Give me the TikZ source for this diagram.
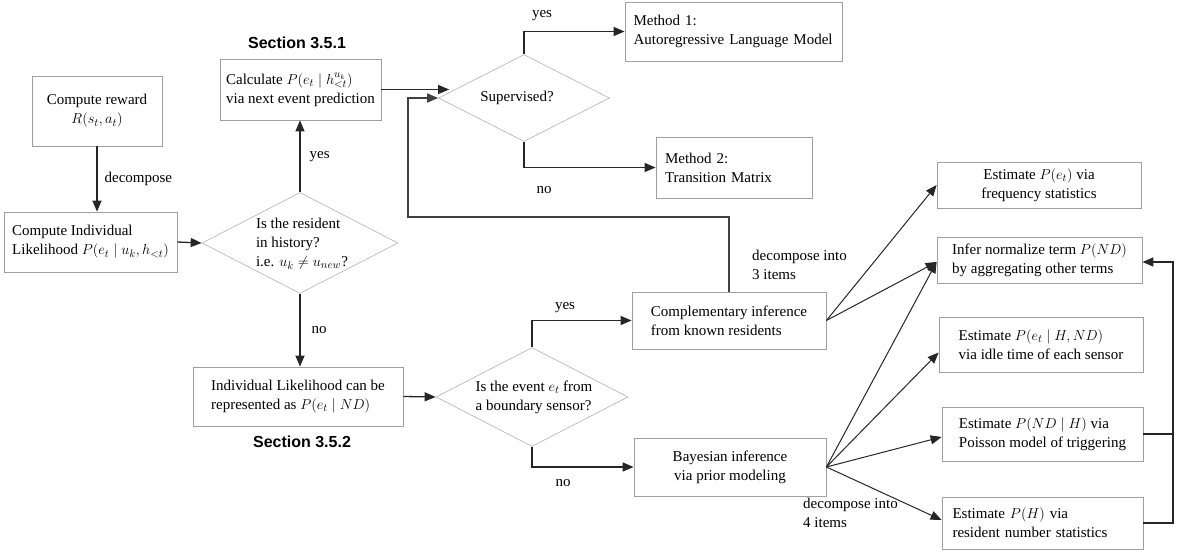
\documentclass[tikz,border=0pt]{standalone}
\usepackage{fontspec}
\setmainfont{Liberation Serif}
\newfontfamily\secfont{Liberation Sans}
\usetikzlibrary{arrows.meta,shapes.geometric,calc}

\tikzset{
  every node/.style={font=\fontsize{15}{19}\selectfont},
  box/.style={draw=gray!75, line width=0.8pt, rectangle, inner sep=4pt},
  dia/.style={draw=gray!55, line width=0.7pt, diamond, inner sep=0pt},
  lbl/.style={inner sep=1pt},
  sec/.style={font=\secfont\bfseries\fontsize{16}{19}\selectfont, inner sep=1pt},
  arr/.style={draw=black!85, line width=1.3pt, -{Triangle[length=11pt,width=9pt]}},
  ln/.style={draw=black!85, line width=1.3pt},
  loopln/.style={draw=black!75, line width=1.6pt, -{Triangle[length=11pt,width=9pt]}}
}

\begin{document}
\begin{tikzpicture}[x=1pt,y=-1pt]
\useasboundingbox (0,0) rectangle (1179,554);

% left column
\node[box, minimum width=130pt, minimum height=70pt, align=center] (reward) at (97,111)
  {Compute reward\\$R(s_t,a_t)$};
\node[box, minimum width=173pt, minimum height=60pt, align=left] (indiv) at (90.5,242)
  {Compute Individual\\Likelihood $P(e_t \mid u_k, h_{<t})$};

% residence test
\node[dia, minimum width=196pt, minimum height=101pt] (d1) at (300,243) {};
\node[align=left, inner sep=0pt] (d1t) at (302,244)
  {Is the resident\\in history?\\i.e. $u_k \neq u_{new}$?};

\node[box, minimum width=161pt, minimum height=61pt, align=left] (calc) at (300.5,89.5)
  {Calculate $P(e_t \mid h^{u_k}_{<t})$\\via next event prediction};
\node[sec] (sec1) at (297,43) {Section 3.5.1};

\node[box, minimum width=210pt, minimum height=59pt, align=left] (ind2) at (298,396.5)
  {Individual Likelihood can be\\represented as $P(e_t \mid ND)$};
\node[sec] (sec2) at (302,442) {Section 3.5.2};

% supervised test
\node[dia, minimum width=171pt, minimum height=87pt] (d2) at (524,98) {};
\node[inner sep=0pt] (d2t) at (517,98) {Supervised?};

\node[box, minimum width=217pt, minimum height=59pt, align=left, text width=200pt] (m1) at (733.5,31.5)
  {Method 1:\\Autoregressive Language Model};
\node[box, minimum width=156pt, minimum height=61pt, align=left, text width=138pt] (m2) at (734,167.5)
  {Method 2:\\Transition Matrix};

% boundary sensor test
\node[dia, minimum width=192pt, minimum height=99pt] (d3) at (532,397) {};
\node[align=left, inner sep=0pt] (d3t) at (534,397)
  {Is the event $e_t$ from\\a boundary sensor?};

\node[box, minimum width=194pt, minimum height=57pt, align=left] (comp) at (729,320.5)
  {Complementary inference\\from known residents};
\node[box, minimum width=192pt, minimum height=58pt, align=center] (bayes) at (730,467)
  {Bayesian inference\\via prior modeling};

% estimated terms
\node[box, minimum width=204pt, minimum height=46pt, align=center] (pe) at (1039,185)
  {Estimate $P(e_t)$ via\\frequency statistics};
\node[box, minimum width=205pt, minimum height=46pt, align=left] (infer) at (1039.5,260)
  {Infer normalize term $P(ND)$\\by aggregating other terms};
\node[box, minimum width=204pt, minimum height=55pt, align=left] (peh) at (1041,344.5)
  {Estimate $P(e_t \mid H, ND)$\\via idle time of each sensor};
\node[box, minimum width=201pt, minimum height=54pt, align=left] (pnd) at (1042.5,434)
  {Estimate $P(ND \mid H)$ via\\Poisson model of triggering};
\node[box, minimum width=201pt, minimum height=52pt, align=left, text width=180pt] (ph) at (1042.5,523)
  {Estimate $P(H)$ via\\resident number statistics};

% connectors
\draw[arr] (reward.south) -- (reward.south |- indiv.north)
  node[lbl, midway, right=6pt] (l1) {decompose};
\draw[arr] (indiv.east) -- (d1.west);
\draw[arr] (d1.north) -- (d1.north |- calc.south)
  node[lbl, midway, right=8pt] (l2) {yes};
\draw[arr] (d1.south) -- (d1.south |- ind2.north)
  node[lbl, midway, right=10pt] (l3) {no};
\draw[arr] (ind2.east) -- (d3.west);

\draw[arr] (calc.east) -- ($(calc.east -| d2.west)+(11,0)$);
\coordinate (lpc) at (408,217);
\draw[loopln] (comp.north) |- (lpc) |- (d2.west);

\draw[arr] (d2.north) |- (m1.west);
\node[lbl] (l4) at (542,16) {yes};
\draw[arr] (d2.south) |- (m2.west);
\node[lbl] (l5) at (544,190) {no};

\draw[arr] (d3.north) |- (comp.west);
\node[lbl] (l6) at (565,308) {yes};
\draw[arr] (d3.south) |- (bayes.west);
\node[lbl] (l7) at (563,483) {no};

% decompositions
\draw[arr, line width=1pt] (comp.east) -- (pe.west);
\draw[arr, line width=1pt] (comp.east) -- ([yshift=-2pt]infer.west);
\draw[arr, line width=1pt] (bayes.east) -- ([yshift=-2pt]infer.west);
\draw[arr, line width=1pt] (bayes.east) -- ([yshift=-8pt]peh.west);
\draw[arr, line width=1pt] (bayes.east) -- ([yshift=-3pt]pnd.west);
\draw[arr, line width=1pt] (bayes.east) -- ([yshift=3pt]ph.west);
\node[lbl, anchor=north west, align=left] (l8) at (751,249) {decompose into\\3 items};
\node[lbl, anchor=north west, align=left] (l9) at (802,497) {decompose into\\4 items};

% feedback into the normalising term
\coordinate (fbtop) at (1173,262);
\coordinate (fbbot) at (1173,523);
\draw[ln] (pnd.east) -- (pnd.east -| fbtop);
\draw[arr] (ph.east) -- (fbbot) -- (fbtop) -- ([yshift=-2pt]infer.east);
\end{tikzpicture}
\end{document}
